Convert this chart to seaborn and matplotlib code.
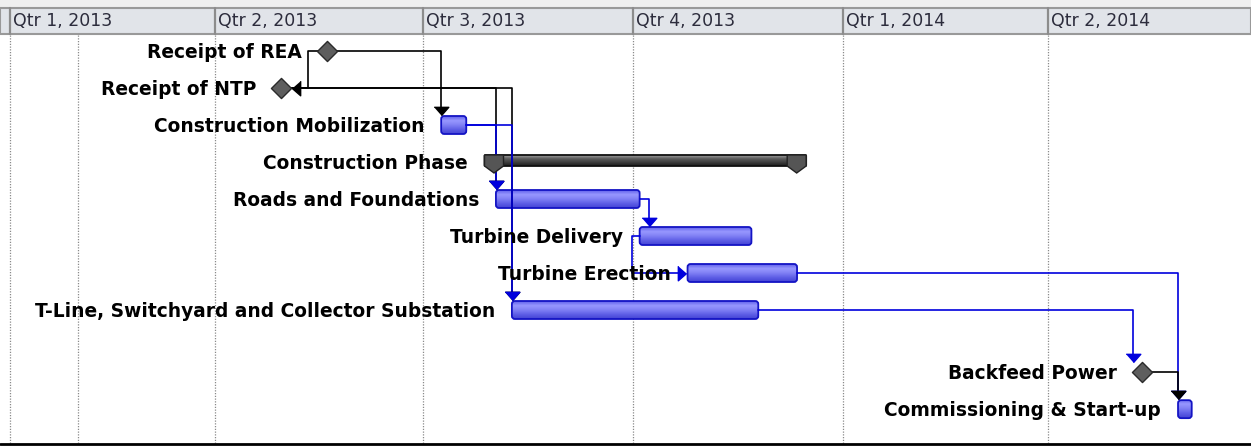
import matplotlib
matplotlib.use("Agg")
import matplotlib.pyplot as plt
import matplotlib.dates as mdates
from matplotlib.patches import FancyBboxPatch, Rectangle, Polygon
from matplotlib.colors import LinearSegmentedColormap
import numpy as np
import pandas as pd
import seaborn as sns

# schedule data
tasks = ["Receipt of REA", "Receipt of NTP", "Construction Mobilization",
         "Construction Phase", "Roads and Foundations", "Turbine Delivery",
         "Turbine Erection", "T-Line, Switchyard and Collector Substation",
         "Backfeed Power", "Commissioning & Start-up"]
starts = ["2013-05-20", "2013-04-30", "2013-07-09", "2013-07-28", "2013-08-02",
          "2013-10-04", "2013-10-25", "2013-08-09", "2014-05-12", "2014-05-28"]
finishes = ["2013-05-20", "2013-04-30", "2013-07-20", "2013-12-16", "2013-10-04",
            "2013-11-22", "2013-12-12", "2013-11-25", "2014-05-12", "2014-06-03"]
kinds = ["milestone", "milestone", "task", "summary", "task",
         "task", "task", "task", "milestone", "task"]
row_pos = [0, 1, 2, 3, 4, 5, 6, 7, 8.68, 9.68]

# predecessor, successor, link type, colour
links = [
    ("Receipt of REA", "Receipt of NTP", "back", "black"),
    ("Receipt of REA", "Construction Mobilization", "FS", "black"),
    ("Receipt of NTP", "Roads and Foundations", "FS", "black"),
    ("Receipt of NTP", "T-Line, Switchyard and Collector Substation", "FS", "black"),
    ("Construction Mobilization", "Roads and Foundations", "FS", "blue"),
    ("Construction Mobilization", "T-Line, Switchyard and Collector Substation", "FS", "blue"),
    ("Roads and Foundations", "Turbine Delivery", "FS", "blue"),
    ("Turbine Delivery", "Turbine Erection", "SS", "blue"),
    ("Turbine Erection", "Commissioning & Start-up", "FS", "blue"),
    ("T-Line, Switchyard and Collector Substation", "Backfeed Power", "FS", "blue"),
    ("Backfeed Power", "Commissioning & Start-up", "FS", "black"),
]

quarters = pd.date_range("2013-01-01", periods=6, freq="QS")
extra_lines = ["2013-01-31"]

sns.set_theme(style="white")
plt.rcParams["font.family"] = ["DejaVu Sans"]

PX_DAY = 2.2813
PX_ROW = 37.0
W, H = 1251, 447


def dx(px):
    return px / PX_DAY


def dy(px):
    return px / PX_ROW


def py(px):
    # pixel row of the image -> y data value
    return dy(px - 51)


df = pd.DataFrame({"task": tasks, "start": pd.to_datetime(starts),
                   "finish": pd.to_datetime(finishes), "kind": kinds, "row": row_pos})
df["x0"] = mdates.date2num(df["start"])
df["x1"] = mdates.date2num(df["finish"])

fig = plt.figure(figsize=(W / 100, H / 100), dpi=100)
ax = fig.add_axes([0, 0, 1, 1])
xmin = mdates.date2num(pd.Timestamp("2013-01-01")) - dx(10)
xmax = xmin + dx(W)

BLUE = "#0000dd"
TASK_EDGE = "#1414c4"
task_cmap = LinearSegmentedColormap.from_list(
    "task", ["#6060ea", "#9898ff", "#8080f4", "#5e5ee6", "#4444d4"])
sum_cmap = LinearSegmentedColormap.from_list(
    "sum", ["#a0a0a0", "#5c5c5c", "#3c3c3c", "#1c1c1c"])
grad = np.linspace(0, 1, 64).reshape(-1, 1)


def gradient_bar(x0, x1, yc, h, cmap, edge, r=3):
    patch = FancyBboxPatch((x0, yc - h / 2), x1 - x0, h,
                           boxstyle=f"round,pad=0,rounding_size={dx(r)}",
                           mutation_aspect=dy(r) / dx(r),
                           fc="none", ec=edge, lw=1.3, zorder=5)
    ax.add_patch(patch)
    im = ax.imshow(grad, cmap=cmap, extent=(x0, x1, yc + h / 2, yc - h / 2),
                   aspect="auto", interpolation="bilinear", zorder=4)
    im.set_clip_path(patch)


# header band
ax.add_patch(Rectangle((xmin, py(0)), xmax - xmin, dy(8), fc="#efefef", ec="none", zorder=1))
ax.add_patch(Rectangle((xmin, py(8)), xmax - xmin, dy(26), fc="#e1e4e9",
                       ec="#999999", lw=1.5, zorder=2))
for q in quarters:
    xq = mdates.date2num(q)
    ax.plot([xq, xq], [py(8), py(34)], color="#8c8c8c", lw=1.6, zorder=3)
    ax.text(xq + dx(3), py(26), f"Qtr {q.quarter}, {q.year}", fontsize=12.5,
            color="#2c2c3c", ha="left", va="baseline", zorder=3)

# dotted grid
for d in list(quarters) + list(pd.to_datetime(extra_lines)):
    xg = mdates.date2num(d)
    ax.plot([xg, xg], [py(35), py(443)], color="#8a8a8a", lw=0.9,
            ls=(0, (1, 1.2)), zorder=1)
ax.plot([xmin, xmax], [py(444), py(444)], color="black", lw=2, zorder=3)


def geom(name):
    r = df[df.task == name].iloc[0]
    if r.kind == "milestone":
        return r.x0 - dx(9), r.x0 + dx(9), r.row, r.row - dy(9)
    return r.x0, r.x1, r.row, r.row - dy(9)


DOWN = [(-7, 4), (7, 4), (0, -4)]
RIGHT = [(-4, 7), (-4, -7), (4, 0)]
LEFT = [(4, 7), (4, -7), (-4, 0)]
AMS = 10.5
half = dy(4.3)

for pred, succ, ltype, col in links:
    c = BLUE if col == "blue" else "black"
    pl, pr, prow, _ = geom(pred)
    sl, sr, srow, stop = geom(succ)
    if ltype == "FS":
        xt = max(sl, pr + dx(9))
        yt = stop - dy(1) - half
        ax.plot([pr, xt, xt], [prow, prow, yt], color=c, lw=1.2, zorder=6,
                solid_joinstyle="round")
        ax.plot(xt, yt, marker=DOWN, ms=AMS, color=c, mec=c, zorder=7)
    elif ltype == "SS":
        xm = pl - dx(8)
        xt = sl - dx(1) - dx(4.3)
        ax.plot([pl, xm, xm, xt], [prow, prow, srow, srow], color=c, lw=1.2, zorder=6)
        ax.plot(xt, srow, marker=RIGHT, ms=AMS, color=c, mec=c, zorder=7)
    else:
        xm = pl - dx(10)
        xt = sr + dx(1) + dx(4.3)
        ax.plot([pl, xm, xm, xt], [prow, prow, srow, srow], color=c, lw=1.2, zorder=6)
        ax.plot(xt, srow, marker=LEFT, ms=AMS, color=c, mec=c, zorder=7)

# task bars
for _, r in df[df.kind == "task"].iterrows():
    gradient_bar(r.x0, r.x1, r.row, dy(18), task_cmap, TASK_EDGE)

# summary bar with end caps
for _, r in df[df.kind == "summary"].iterrows():
    gradient_bar(r.x0, r.x1, r.row - dy(1.5), dy(11), sum_cmap, "#101010", r=1)
    for xc in (r.x0 + dx(9.5), r.x1 - dx(9.5)):
        cap = Polygon([(xc - dx(9.5), r.row - dy(7)), (xc + dx(9.5), r.row - dy(7)),
                       (xc + dx(9.5), r.row + dy(4)), (xc, r.row + dy(11)),
                       (xc - dx(9.5), r.row + dy(4))],
                      closed=True, fc="#555555", ec="#222222", lw=1, zorder=6)
        ax.add_patch(cap)

# milestones
ms_df = df[df.kind == "milestone"]
sns.scatterplot(data=ms_df, x="x0", y="row", marker="D", s=105, color="#5e5e5e",
                edgecolor="#2a2a2a", linewidth=1.0, legend=False, zorder=8, ax=ax)

# labels
for _, r in df.iterrows():
    off = -25 if r.kind == "milestone" else -17
    ax.annotate(r.task, (r.x0, r.row), xytext=(off * 0.72, -7 * 0.72),
                textcoords="offset points", ha="right", va="baseline",
                fontsize=13.4, fontweight="bold", color="black", zorder=9)

ax.set_xlim(xmin, xmax)
ax.set_ylim(py(H), py(0))
ax.set_axis_off()

fig.savefig("out.png", dpi=100)
